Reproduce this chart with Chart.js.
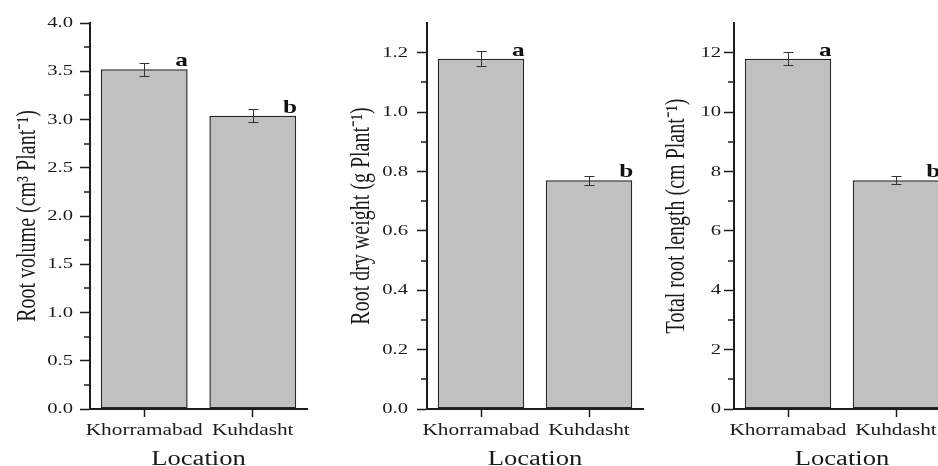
<!DOCTYPE html>
<html>
<head>
<meta charset="utf-8">
<script src="https://cdn.jsdelivr.net/npm/chart.js@4.4.1/dist/chart.umd.min.js"></script>
<style>
  html, body { margin: 0; padding: 0; background: #ffffff; overflow: hidden; width: 938px; height: 466px; }
  #wrap { position: relative; width: 938px; height: 466px; overflow: hidden; background: #ffffff; }
  canvas { position: absolute; top: 0; }
</style>
</head>
<body>
<div id="wrap">
  <canvas id="c1" width="320" height="466" style="left:0px"></canvas>
  <canvas id="c2" width="330" height="466" style="left:320px"></canvas>
  <canvas id="c3" width="330" height="466" style="left:630px"></canvas>
</div>
<script>
// ---------------- DATA ----------------
const categories = ['Khorramabad', 'Kuhdasht'];
const xTitle = 'Location';
const groupLetters = ['a', 'b'];

const rootVolume = [3.52, 3.04];
const rootVolumeErr = [0.07, 0.07];
const rootVolumeTicks = ['0.0', '0.5', '1.0', '1.5', '2.0', '2.5', '3.0', '3.5', '4.0'];
const rootVolumeTitle = 'Root volume (cm³ Plant⁻¹)';

const rootDryWeight = [1.18, 0.77];
const rootDryWeightErr = [0.025, 0.016];
const rootDryWeightTicks = ['0.0', '0.2', '0.4', '0.6', '0.8', '1.0', '1.2'];
const rootDryWeightTitle = 'Root dry weight (g Plant⁻¹)';

const totalRootLength = [11.8, 7.7];
const totalRootLengthErr = [0.22, 0.135];
const totalRootLengthTicks = ['0', '2', '4', '6', '8', '10', '12'];
const totalRootLengthTitle = 'Total root length (cm Plant⁻¹)';

// ---------------- STYLE ----------------
const SERIF = '"Liberation Serif", "Times New Roman", serif';
const AXIS = '#1c1c1c';
const TXT = '#1a1a1a';
const BAR_FILL = '#c0c0c0';
const BAR_EDGE = '#262626';
const STRETCH = 1.33; // reference text is horizontally stretched

function stretchText(ctx, S) {
  const orig = ctx.fillText;
  ctx.fillText = function (text, x, y, maxWidth) {
    const m = this.getTransform();
    const px = m.a * x + m.c * y + m.e;
    this.save();
    this.setTransform(new DOMMatrix([S, 0, 0, 1, px - S * px, 0]).multiply(m));
    if (maxWidth === undefined) orig.call(this, text, x, y);
    else orig.call(this, text, x, y, maxWidth);
    this.restore();
  };
}

const extrasPlugin = {
  id: 'extras',
  afterDatasetsDraw(chart) {
    const o = chart.options.plugins.extras;
    const ctx = chart.ctx;
    const ys = chart.scales.y;
    const meta = chart.getDatasetMeta(0);
    const ds = chart.data.datasets[0];
    ctx.save();
    // error bars
    ctx.strokeStyle = '#333333';
    ctx.lineWidth = 1;
    meta.data.forEach((bar, i) => {
      const v = ds.data[i], e = o.errors[i];
      const x = Math.round(bar.x) + 0.5;
      const t = Math.round(ys.getPixelForValue(v + e)) + 0.5;
      const b = Math.round(ys.getPixelForValue(v - e)) + 0.5;
      ctx.beginPath();
      ctx.moveTo(x, t); ctx.lineTo(x, b);
      ctx.moveTo(x - 5, t); ctx.lineTo(x + 5, t);
      ctx.moveTo(x - 5, b); ctx.lineTo(x + 5, b);
      ctx.stroke();
    });
    // significance letters
    ctx.fillStyle = '#111111';
    ctx.font = 'bold 19px ' + SERIF;
    ctx.textAlign = 'center';
    ctx.textBaseline = 'alphabetic';
    meta.data.forEach((bar, i) => {
      ctx.fillText(o.letters[i], bar.x + bar.width / 2 - 6, bar.y - 3);
    });
    ctx.restore();
  },
  afterDraw(chart) {
    const o = chart.options.plugins.extras;
    const ctx = chart.ctx;
    const ys = chart.scales.y;
    ctx.save();
    ctx.strokeStyle = AXIS;
    ctx.lineWidth = 1.5;
    const n = Math.round((ys.max - ys.min) / o.minor);
    for (let i = 1; i < n; i++) {
      const v = ys.min + i * o.minor;
      const r = v / o.major;
      if (Math.abs(r - Math.round(r)) < 1e-6) continue;
      const py = Math.round(ys.getPixelForValue(v));
      ctx.beginPath();
      ctx.moveTo(ys.right - 6, py);
      ctx.lineTo(ys.right, py);
      ctx.stroke();
    }
    ctx.restore();
  }
};

const panels = [
  { id: 'c1', values: rootVolume, errors: rootVolumeErr, ticks: rootVolumeTicks, title: rootVolumeTitle,
    max: 4.0, step: 0.5, minor: 0.25, yw: 90, rp: 13, tc: 28, tp: 7 },
  { id: 'c2', values: rootDryWeight, errors: rootDryWeightErr, ticks: rootDryWeightTicks, title: rootDryWeightTitle,
    max: 1.3, step: 0.2, minor: 0.1, yw: 107, rp: 7, tc: 42, tp: 9 },
  { id: 'c3', values: totalRootLength, errors: totalRootLengthErr, ticks: totalRootLengthTicks, title: totalRootLengthTitle,
    max: 13, step: 2, minor: 1, yw: 104, rp: 10, tc: 47, tp: 3 }
];

panels.forEach(p => {
  const canvas = document.getElementById(p.id);
  const ctx = canvas.getContext('2d');
  stretchText(ctx, STRETCH);
  new Chart(ctx, {
    type: 'bar',
    data: {
      labels: categories,
      datasets: [{
        data: p.values,
        backgroundColor: BAR_FILL,
        borderColor: BAR_EDGE,
        borderWidth: 1.5,
        borderSkipped: false,
        barPercentage: 0.8,
        categoryPercentage: 1.0
      }]
    },
    options: {
      responsive: false,
      animation: false,
      devicePixelRatio: 1,
      layout: { padding: { left: 0, top: 23, right: p.rp, bottom: 0 } },
      plugins: {
        legend: { display: false },
        tooltip: { enabled: false },
        extras: { errors: p.errors, letters: groupLetters, minor: p.minor, major: p.step }
      },
      scales: {
        x: {
          afterFit: s => { s.height = 57; },
          border: { display: true, color: AXIS, width: 2 },
          grid: { display: true, offset: false, drawOnChartArea: false, drawTicks: true,
                  tickLength: 8, tickWidth: 1.5, tickColor: AXIS },
          ticks: { padding: 4, color: TXT, font: { family: SERIF, size: 16 },
                   maxRotation: 0, minRotation: 0, autoSkip: false },
          title: { display: true, text: xTitle, color: TXT,
                   font: { family: SERIF, size: 20, lineHeight: 1 },
                   padding: { top: 0, bottom: -4 } }
        },
        y: {
          min: 0,
          max: p.max,
          afterFit: s => { s.width = p.yw; },
          border: { display: true, color: AXIS, width: 2 },
          grid: { display: true, drawOnChartArea: false, drawTicks: true,
                  tickLength: 10, tickWidth: 1.5, tickColor: AXIS },
          ticks: { stepSize: p.step, includeBounds: false, padding: p.tp, color: TXT,
                   font: { family: SERIF, size: 15.5 },
                   callback: (v, i) => p.ticks[i] },
          title: { display: true, text: p.title, color: TXT,
                   font: { family: SERIF, size: 20, lineHeight: 1.2 },
                   padding: { top: p.tc - 12, bottom: 0 } }
        }
      }
    },
    plugins: [extrasPlugin]
  });
});
</script>
</body>
</html>
